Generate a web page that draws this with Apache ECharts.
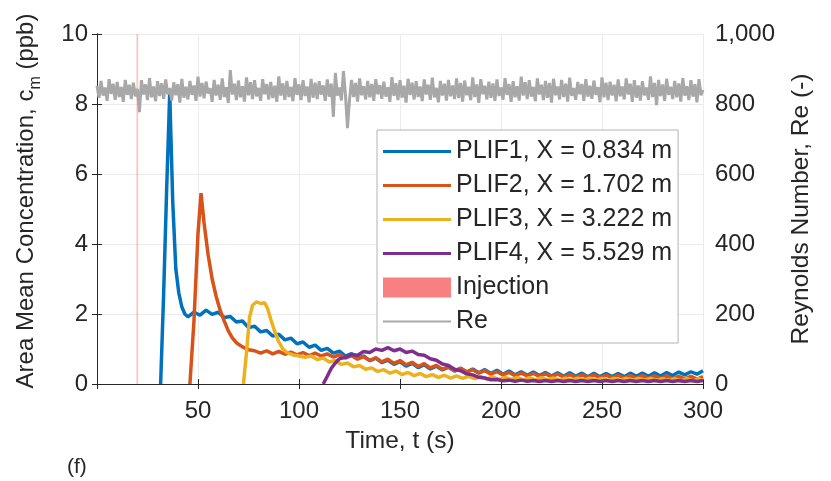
<!DOCTYPE html>
<html>
<head>
<meta charset="utf-8">
<script src="https://cdn.jsdelivr.net/npm/echarts@6/dist/echarts.min.js"></script>
<style>html,body{margin:0;padding:0;background:#fff}#c{width:831px;height:481px}</style>
</head>
<body>
<div id="c"></div>
<script>
// ---- data ----
const xTicks = [0, 300, 50];          // min, max, step of time axis
const yLeftTicks = [0, 10, 2];
const yRightTicks = [0, 1000, 200];

const plif1 = [[31.5,0],[33,2.6],[34.5,5.6],[36,8.3],[37.5,5.2],[39,3.3],[40.5,2.6],[42,2.2],[43.5,2.0],
[45,1.92],[48,2.05],[51,1.97],[54,2.11],[57,1.99],[60,2.05],[63,1.9],[66,1.93],[69,1.77],[72,1.8],[75,1.61],[78,1.65],[81,1.49],[84,1.53],[87,1.37],[90,1.42],[93,1.26],[96,1.31],[99,1.15],[102,1.2],[105,1.05],[108,1.11],[111,0.96],[114,1.02],[117,0.88],[120,0.94],[123,0.8],[126,0.87],[129,0.73],[132,0.8],[135,0.67],[138,0.74],[141,0.61],[144,0.68],[147,0.56],[150,0.64],[153,0.51],[156,0.59],[159,0.47],[162,0.55],[165,0.43],[168,0.51],[171,0.4],[174,0.48],[177,0.37],[180,0.45],[183,0.34],[186,0.43],[189,0.32],[192,0.41],[195,0.3],[198,0.39],[201,0.28],[204,0.37],[207,0.26],[210,0.35],[213,0.25],[216,0.34],[219,0.24],[222,0.33],[225,0.23],[228,0.32],[231,0.22],[234,0.32],[237,0.22],[240,0.31],[243,0.21],[246,0.31],[249,0.21],[252,0.3],[255,0.21],[258,0.3],[261,0.21],[264,0.31],[267,0.22],[270,0.31],[273,0.22],[276,0.32],[279,0.23],[282,0.33],[285,0.24],[288,0.34],[291,0.26],[294,0.35],[297,0.28],[300,0.38]];

const plif2 = [[46,0],[48,1.8],[50,4.3],[51.5,5.45],[53,4.6],[55,3.7],[57,3.0],[59,2.5],[61,2.1],[63,1.8],[65,1.52],[67,1.32],[69,1.18],[72,1.06],[75,0.98],
[78,0.95],[81,0.88],[84,0.95],[87,0.86],[90,0.93],[93,0.85],[96,0.91],[99,0.83],[102,0.9],[105,0.81],[108,0.88],[111,0.8],[114,0.86],[117,0.77],[120,0.84],[123,0.74],[126,0.81],[129,0.71],[132,0.78],[135,0.67],[138,0.75],[141,0.63],[144,0.71],[147,0.59],[150,0.67],[153,0.55],[156,0.62],[159,0.5],[162,0.58],[165,0.46],[168,0.53],[171,0.42],[174,0.49],[177,0.38],[180,0.45],[183,0.34],[186,0.41],[189,0.31],[192,0.38],[195,0.28],[198,0.35],[201,0.26],[204,0.33],[207,0.24],[210,0.31],[213,0.23],[216,0.3],[219,0.22],[222,0.29],[225,0.21],[228,0.28],[231,0.2],[234,0.27],[237,0.19],[240,0.26],[243,0.19],[246,0.26],[249,0.18],[252,0.25],[255,0.18],[258,0.25],[261,0.17],[264,0.24],[267,0.17],[270,0.24],[273,0.16],[276,0.23],[279,0.16],[282,0.23],[285,0.15],[288,0.22],[291,0.15],[294,0.22],[297,0.14],[300,0.21]];

const plif3 = [[72.5,0],[74,0.9],[75.5,1.9],[77,2.25],[79,2.35],[81,2.3],[83,2.32],[84.5,2.15],[86,1.85],[88,1.5],[90,1.2],[92,1.0],[94,0.9],[97,0.83],[100,0.8],[103,0.76],[106,0.8],[109,0.7],[112,0.74],[115,0.63],[118,0.67],[121,0.56],[124,0.6],[127,0.49],[130,0.53],[133,0.42],[136,0.46],[139,0.36],[142,0.41],[145,0.31],[148,0.37],[151,0.27],[154,0.33],[157,0.24],[160,0.3],[163,0.21],[166,0.27],[169,0.19],[172,0.25],[175,0.17],[178,0.23],[181,0.16],[184,0.22],[187,0.15],[190,0.21],[193,0.14],[196,0.2],[199,0.13],[202,0.19],[205,0.13],[208,0.19],[211,0.12],[214,0.18],[217,0.12],[220,0.18],[223,0.12],[226,0.17],[229,0.11],[232,0.17],[235,0.11],[238,0.17],[241,0.11],[244,0.17],[247,0.11],[250,0.16],[253,0.1],[256,0.16],[259,0.1],[262,0.16],[265,0.1],[268,0.16],[271,0.1],[274,0.16],[277,0.1],[280,0.15],[283,0.1],[286,0.15],[289,0.09],[292,0.15],[295,0.09],[298,0.15],[300,0.1]];

const plif4 = [[112,0],[114,0.22],[116,0.45],[118,0.6],[120,0.72],[123,0.76],[126,0.84],[129,0.82],[132,0.93],[135,0.9],[138,1.0],[141,0.96],[144,1.04],[147,0.95],[150,1.0],[153,0.9],[156,0.94],[159,0.84],[162,0.82],[165,0.72],[168,0.68],[171,0.57],[174,0.53],[177,0.42],[180,0.38],[183,0.29],[186,0.26],[189,0.19],[192,0.17],[195,0.12],[198,0.13],[201,0.09],[204,0.11],[207,0.08],[210,0.11],[213,0.08],[216,0.1],[219,0.07],[222,0.1],[225,0.07],[228,0.1],[231,0.07],[234,0.1],[237,0.07],[240,0.1],[243,0.07],[246,0.1],[249,0.07],[252,0.1],[255,0.07],[258,0.1],[261,0.07],[264,0.1],[267,0.07],[270,0.1],[273,0.07],[276,0.1],[279,0.07],[282,0.1],[285,0.07],[288,0.1],[291,0.07],[294,0.1],[297,0.07],[300,0.1]];

const injection = [19.5, 20.4];   // injection window, s

const reStep = 1;                  // Re sampled every second from t = 0
const reValues = [
852,818,866,824,847,809,871,829,858,812,863,820,849,806,869,826,855,814,861,822,
843,777,868,827,856,811,874,819,850,808,865,823,859,815,870,828,846,810,862,825,
857,804,872,818,849,813,866,826,853,809,878,821,860,816,864,830,845,806,869,824,
855,812,873,820,848,803,897,827,858,811,867,819,851,807,876,825,862,814,868,822,
846,809,871,828,857,813,863,817,852,806,879,824,859,812,866,820,849,808,874,826,
856,811,868,823,850,805,872,818,861,814,865,827,853,809,870,821,858,763,889,824,
847,810,894,826,731,812,869,820,860,807,873,825,851,813,866,819,857,809,871,828,
854,815,864,821,848,806,877,823,859,811,868,818,852,804,872,826,861,813,865,820,
850,808,870,827,855,812,875,819,846,805,866,824,858,810,869,822,853,814,873,817,
860,807,867,825,849,811,876,820,856,803,871,828,852,813,864,818,859,809,870,823,
847,812,874,826,857,806,865,819,851,810,878,824,862,814,868,821,849,808,873,827,
855,811,866,818,860,804,872,825,850,813,869,820,858,807,875,823,846,812,863,828,
857,809,871,821,852,815,867,826,848,805,876,819,861,811,864,824,855,808,870,822,
850,813,873,827,858,806,868,818,853,810,865,825,847,812,879,820,860,797,869,823,
856,809,872,826,849,814,866,819,859,807,874,824,851,811,868,821,857,805,871,825,
840];

const names = ['PLIF1, X = 0.834 m','PLIF2, X = 1.702 m','PLIF3, X = 3.222 m','PLIF4, X = 5.529 m','Injection','Re'];
const colors = ['#0072BD','#D95319','#EDB120','#7E2F8E','#F98080','#A8A8A8'];

// ---- chart ----
const FONT = 'Liberation Sans, Arial, sans-serif';
const TXT = '#262626';
const chart = echarts.init(document.getElementById('c'), null, {renderer:'canvas'});
const reData = reValues.map((v,i)=>[i*reStep, v]);
const lineSeries = (name, data, color) => ({
  name, type:'line', data, yAxisIndex:0, xAxisIndex:0, symbol:'none', showSymbol:false,
  lineStyle:{width:3.5, color}, itemStyle:{color}, animation:false, z:3
});
const axisLineStyle = {show:true, lineStyle:{color:TXT, width:1}};
const tick = {show:true, inside:true, length:5, lineStyle:{color:TXT}};
// legend glyphs: a thin horizontal bar inside a 68x20 box
const thickBar = 'path://M0,0 M68,20 M0,8.5 L68,8.5 L68,11.5 L0,11.5 Z';
const thinBar = 'path://M0,0 M68,20 M0,9 L68,9 L68,11 L0,11 Z';

chart.setOption({
  animation:false,
  textStyle:{fontFamily:FONT},
  title:{text:'(f)', left:62, top:452, textStyle:{fontSize:21, fontWeight:'normal', color:TXT, fontFamily:FONT}},
  grid:{left:97, right:128, top:34, bottom:97, containLabel:false},
  legend:{
    orient:'vertical', left:377, top:130, padding:[9,6,9,6], itemGap:9,
    itemWidth:68, itemHeight:20, itemTextGap:7,
    backgroundColor:'#ffffff', borderColor:'#b4b4b4', borderWidth:1, borderRadius:0,
    textStyle:{fontSize:25, color:TXT, fontFamily:FONT},
    data:[
      {name:names[0], icon:thickBar},{name:names[1], icon:thickBar},
      {name:names[2], icon:thickBar},{name:names[3], icon:thickBar},
      {name:names[4], icon:'rect', itemStyle:{color:colors[4]}},
      {name:names[5], icon:thinBar}
    ]
  },
  xAxis:[{
    type:'value', min:xTicks[0], max:xTicks[1], interval:xTicks[2], position:'bottom',
    name:'Time, t (s)', nameLocation:'middle', nameGap:45,
    nameTextStyle:{fontSize:24.5, color:TXT, fontFamily:FONT},
    axisLine:axisLineStyle, axisTick:tick,
    axisLabel:{fontSize:24, color:TXT, margin:15, fontFamily:FONT, formatter:v=> v===0 ? '' : String(v)},
    splitLine:{show:true, lineStyle:{color:'#ececec', width:1}}
  },{
    type:'value', min:xTicks[0], max:xTicks[1], interval:xTicks[2], position:'top',
    axisLine:axisLineStyle, axisTick:tick, axisLabel:{show:false}, splitLine:{show:false}
  }],
  yAxis:[{
    type:'value', min:yLeftTicks[0], max:yLeftTicks[1], interval:yLeftTicks[2], position:'left',
    name:'Area Mean Concentration, c{sub|m} (ppb)', nameLocation:'middle', nameGap:53, nameRotate:90,
    nameTextStyle:{fontSize:24, color:TXT, fontFamily:FONT, padding:[0,0,0,16],
      rich:{sub:{fontSize:16, color:TXT, fontFamily:FONT, verticalAlign:'bottom', lineHeight:36}}},
    axisLine:axisLineStyle, axisTick:tick,
    axisLabel:{fontSize:24, color:TXT, margin:9, fontFamily:FONT},
    splitLine:{show:true, lineStyle:{color:'#ececec', width:1}}
  },{
    type:'value', min:yRightTicks[0], max:yRightTicks[1], interval:yRightTicks[2], position:'right',
    name:'Reynolds Number, Re (-)', nameLocation:'middle', nameGap:86, nameRotate:90,
    nameTextStyle:{fontSize:24.5, color:TXT, fontFamily:FONT},
    axisLine:axisLineStyle, axisTick:tick,
    axisLabel:{fontSize:24, color:TXT, margin:12, fontFamily:FONT,
      formatter:v=> v>=1000 ? Math.floor(v/1000)+','+String(v%1000).padStart(3,'0') : String(v)},
    splitLine:{show:false}
  }],
  series:[
    {
      name:names[4], type:'line', data:[], xAxisIndex:0, yAxisIndex:0, symbol:'none',
      itemStyle:{color:colors[4]}, lineStyle:{color:colors[4]}, z:1,
      markArea:{silent:true, itemStyle:{color:'rgba(240,90,90,0.35)', borderWidth:0},
        data:[[{xAxis:injection[0]},{xAxis:injection[1]}]]}
    },
    lineSeries(names[0], plif1, colors[0]),
    lineSeries(names[1], plif2, colors[1]),
    lineSeries(names[2], plif3, colors[2]),
    lineSeries(names[3], plif4, colors[3]),
    {
      name:names[5], type:'line', data:reData, xAxisIndex:0, yAxisIndex:1, symbol:'none', showSymbol:false,
      lineStyle:{width:3, color:colors[5]}, itemStyle:{color:colors[5]}, z:4
    }
  ]
});
</script>
</body>
</html>
